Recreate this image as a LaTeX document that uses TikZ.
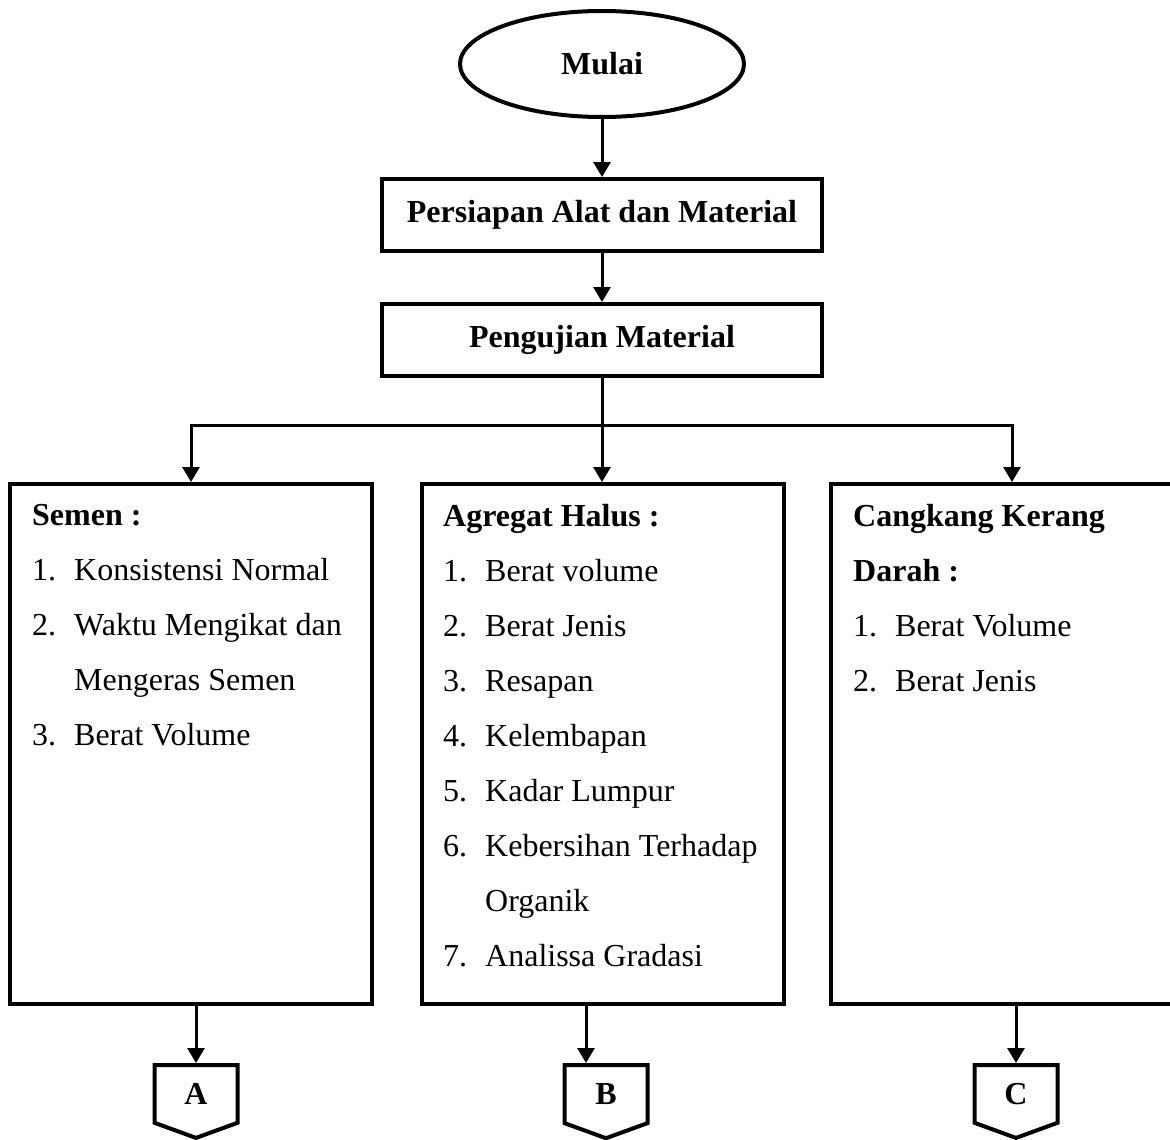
\documentclass[tikz,border=0pt]{standalone}
\usepackage{fontspec}
\setmainfont{Liberation Serif}
\usepackage{tikz}
\usetikzlibrary{shapes.geometric,shapes.symbols,arrows.meta,positioning}
\newcommand{\flowfont}{\fontsize{32}{55}\selectfont}
\newcommand{\numitem}[1]{\makebox[42pt][l]{#1}}

\begin{document}
\begin{tikzpicture} [
    x = 1pt, y = -1pt,
    inner sep = 0,
    terminal/.style = { draw, ellipse, line width = 4pt, minimum width = 284pt, minimum height = 106pt, font = \flowfont\bfseries },
    process/.style = { draw, rectangle, line width = 4pt, minimum width = 440pt, minimum height = 72pt, font = \flowfont\bfseries },
    listbox/.style = { draw, rectangle, line width = 4pt, minimum width = 362pt, minimum height = 520pt },
    listtext/.style = { anchor = north west, align = left, font = \flowfont },
    offpage/.style = { draw, signal, signal to = south, signal pointer angle = 140, line width = 4pt, minimum width = 83pt, minimum height = 62pt, font = \flowfont\bfseries },
    flow/.style = { line width = 3pt, -{Triangle[width = 17pt, length = 15pt]} }
    ]

    \useasboundingbox (0,0) rectangle (1170,1140);
    \clip (0,0) rectangle (1170,1140);

    \node [terminal] (mulai) at (602,64) {Mulai};
    \node [process] (persiapan) at (602,215) {Persiapan Alat dan Material};
    \node [process] (pengujian) at (602,340) {Pengujian Material};

    % three groups of tests
    \node [listbox] (semen) at (191,744) {};
    \node [listbox] (agregat) at (603,744) {};
    \node [listbox] (cangkang) at (1012,744) {};

    \node [listtext] (semen text) at (32,504) {\textbf{Semen :}\\
        \numitem{1.}Konsistensi Normal\\
        \numitem{2.}Waktu Mengikat dan\\
        \numitem{}Mengeras Semen\\
        \numitem{3.}Berat Volume};
    \node [listtext] (agregat text) at (443,504) {\textbf{Agregat Halus :}\\
        \numitem{1.}Berat volume\\
        \numitem{2.}Berat Jenis\\
        \numitem{3.}Resapan\\
        \numitem{4.}Kelembapan\\
        \numitem{5.}Kadar Lumpur\\
        \numitem{6.}Kebersihan Terhadap\\
        \numitem{}Organik\\
        \numitem{7.}Analissa Gradasi};
    \node [listtext] (cangkang text) at (853,504) {\textbf{Cangkang Kerang}\\
        \textbf{Darah :}\\
        \numitem{1.}Berat Volume\\
        \numitem{2.}Berat Jenis};

    % off-page connectors
    \node [offpage, anchor = north] (A) at (196,1063) {A};
    \node [offpage, anchor = north] (B) at (606,1063) {B};
    \node [offpage, anchor = north] (C) at (1016,1063) {C};
    \coordinate (B top) at ([xshift = -20pt]B.north);
    \coordinate (split) at (602,425);

    \draw [flow] (mulai) -- (persiapan);
    \draw [flow] (persiapan) -- (pengujian);
    \draw [line width = 3pt] (pengujian) -- (split);
    \draw [flow] (split) -| (semen.north);
    \draw [flow] (split) -- (split |- agregat.north);
    \draw [flow] (split) -| (cangkang.north);
    \draw [flow] (semen.south -| A.north) -- (A.north);
    \draw [flow] (agregat.south -| B top) -- (B top);
    \draw [flow] (cangkang.south -| C.north) -- (C.north);
\end{tikzpicture}
\end{document}
